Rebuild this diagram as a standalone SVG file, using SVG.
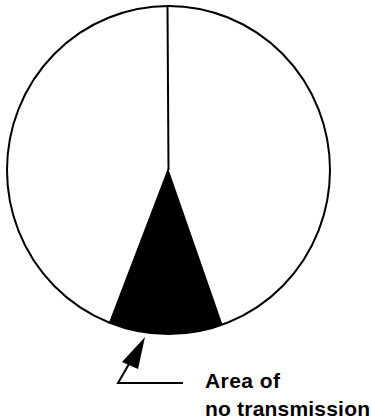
<svg xmlns="http://www.w3.org/2000/svg" width="372" height="420" viewBox="0 0 372 420">
<style>
.ln{fill:none;stroke:#000;stroke-width:2}
.lbl{font-family:"Liberation Sans",Arial,sans-serif;font-weight:bold;font-size:21px;fill:#000}
</style>
<rect width="372" height="420" fill="#fff"/>
<g id="circle">
<ellipse class="ln" cx="168.5" cy="170" rx="161.5" ry="164"/>
</g>
<g id="wedge">
<path d="M168,168 L109,322.5 A161.5,164 0 0 0 222.5,324.5 Z" fill="#000"/>
</g>
<g id="connectors">
<line class="ln" x1="167.5" y1="7" x2="168.5" y2="170"/>
<polyline class="ln" points="183,383 118,383 129,364"/>
<polygon points="145,337 122,362 138,369" fill="#000"/>
</g>
<g id="label">
<text class="lbl" x="205" y="388" textLength="75" lengthAdjust="spacing">Area of</text>
<text class="lbl" x="205" y="416" textLength="165" lengthAdjust="spacing">no transmission</text>
</g>
</svg>
